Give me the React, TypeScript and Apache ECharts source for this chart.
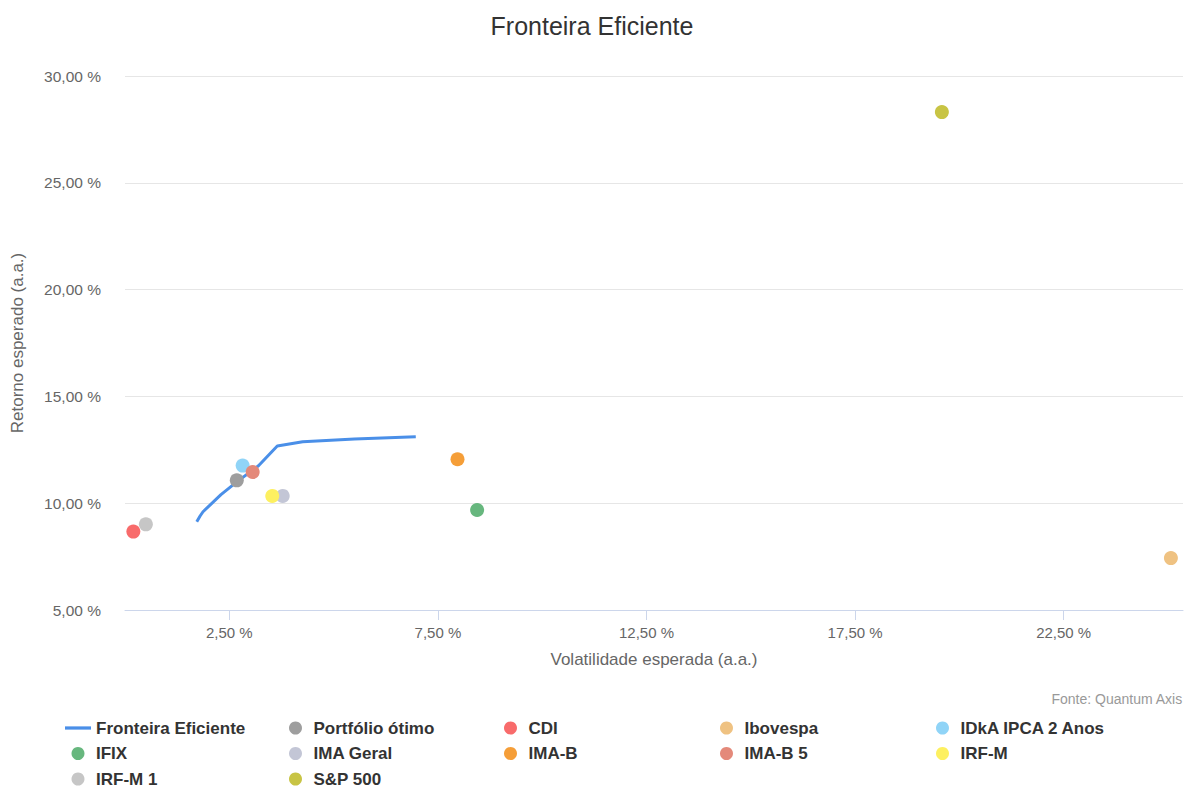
import React, { useEffect, useRef } from "react";
import * as echarts from "echarts";

const FONT = "'Liberation Sans', Arial, Helvetica, sans-serif";

const frontierX = [1.72, 1.8, 1.87, 2.3, 2.68, 3.2, 3.65, 4.26, 5.5, 6.97];
const frontierY = [9.13, 9.4, 9.6, 10.4, 11.0, 11.75, 12.68, 12.88, 13.0, 13.11];

const assetNames = [
  "Portfólio ótimo",
  "CDI",
  "Ibovespa",
  "IDkA IPCA 2 Anos",
  "IFIX",
  "IMA Geral",
  "IMA-B",
  "IMA-B 5",
  "IRF-M",
  "IRF-M 1",
  "S&P 500",
];
const assetVol = [2.68, 0.2, 25.07, 2.82, 8.44, 3.78, 7.97, 3.06, 3.53, 0.5, 19.58];
const assetRet = [11.07, 8.67, 7.43, 11.76, 9.68, 10.34, 12.06, 11.46, 10.34, 9.01, 28.31];
const assetColors = [
  "#9e9e9e",
  "#f86b6b",
  "#efc282",
  "#90d4f7",
  "#67b77e",
  "#c3c6d6",
  "#f59e38",
  "#e4897a",
  "#fdf060",
  "#c6c6c6",
  "#c8c444",
];

const xTicks = [2.5, 7.5, 12.5, 17.5, 22.5];

const legendColumns = [
  ["Fronteira Eficiente", "IFIX", "IRF-M 1"],
  ["Portfólio ótimo", "IMA Geral", "S&P 500"],
  ["CDI", "IMA-B"],
  ["Ibovespa", "IMA-B 5"],
  ["IDkA IPCA 2 Anos", "IRF-M"],
];
const legendLefts = [65, 289, 504, 720, 936];

const fmt = (v: number) => v.toFixed(2).replace(".", ",") + " %";

export default function App() {
  const ref = useRef<HTMLDivElement>(null);
  useEffect(() => {
    if (!ref.current) return;
    const chart = echarts.init(ref.current, null, { renderer: "svg" });
    const series: any[] = [
      {
        name: "Fronteira Eficiente",
        type: "line",
        symbol: "none",
        smooth: false,
        data: frontierX.map((x, i) => [x, frontierY[i]]),
        lineStyle: { color: "#4a8fe8", width: 3 },
        itemStyle: { color: "#4a8fe8" },
        z: 2,
      },
      ...assetNames.map((n, i) => ({
        name: n,
        type: "scatter",
        symbol: "circle",
        symbolSize: 14,
        data: [[assetVol[i], assetRet[i]]],
        itemStyle: { color: assetColors[i], opacity: 1 },
        z: 3,
      })),
    ];
    chart.setOption({
      animation: false,
      textStyle: { fontFamily: FONT },
      title: {
        text: "Fronteira Eficiente",
        left: "center",
        top: 8,
        textStyle: { fontFamily: FONT, fontSize: 25, fontWeight: "normal", color: "#333333" },
      },
      grid: { left: 125, right: 1, top: 76, bottom: 178, containLabel: false },
      xAxis: {
        type: "value",
        min: 0,
        max: 25.36,
        name: "Volatilidade esperada (a.a.)",
        nameLocation: "middle",
        nameGap: 41,
        nameTextStyle: { fontFamily: FONT, fontSize: 17, color: "#666666" },
        axisLine: { show: true, lineStyle: { color: "#ccd6eb", width: 1 } },
        axisTick: {
          show: true,
          customValues: xTicks,
          length: 10,
          lineStyle: { color: "#ccd6eb" },
        },
        axisLabel: {
          customValues: xTicks,
          formatter: (v: number) => fmt(v),
          fontFamily: FONT,
          fontSize: 15,
          color: "#666666",
          margin: 15,
        },
        splitLine: { show: false },
      },
      yAxis: {
        type: "value",
        min: 5,
        max: 30,
        interval: 5,
        name: "Retorno esperado (a.a.)",
        nameLocation: "middle",
        nameGap: 99,
        nameTextStyle: { fontFamily: FONT, fontSize: 17, color: "#666666" },
        axisLine: { show: false },
        axisTick: { show: false },
        axisLabel: {
          formatter: (v: number) => fmt(v),
          fontFamily: FONT,
          fontSize: 15.5,
          color: "#666666",
          margin: 24,
        },
        splitLine: { show: true, lineStyle: { color: "#e6e6e6", width: 1 } },
      },
      legend: legendColumns.map((col, i) => ({
        orient: "vertical",
        left: legendLefts[i],
        top: 719,
        height: 100,
        itemWidth: 26,
        itemHeight: 13,
        itemGap: 7.5,
        padding: 0,
        selectedMode: false,
        data: col.map((name) =>
          name === "Fronteira Eficiente"
            ? { name, icon: "path://M0,0 L24,0 L24,3 L0,3 Z", itemStyle: { color: "#4a8fe8" } }
            : { name, icon: "circle" }
        ),
        textStyle: {
          fontFamily: FONT,
          fontSize: 17,
          lineHeight: 18,
          fontWeight: "bold",
          color: "#333333",
        },
      })),
      graphic: [
        {
          type: "text",
          right: 1,
          top: 692,
          style: {
            text: "Fonte: Quantum Axis",
            fontFamily: FONT,
            fontSize: 14,
            fill: "#999999",
          },
        },
      ],
      series,
    });
    return () => chart.dispose();
  }, []);
  return (
    <div
      ref={ref}
      style={{ position: "fixed", left: 0, top: 0, width: 1184, height: 788, background: "#ffffff" }}
    />
  );
}
